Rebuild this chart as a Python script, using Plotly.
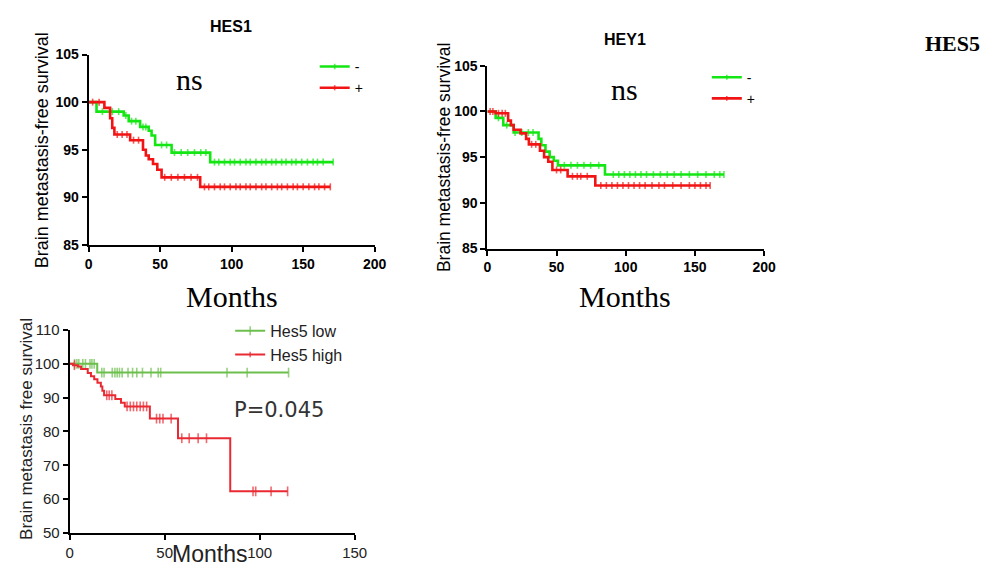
import numpy as np
import plotly.graph_objects as go

# ---------------- data ----------------
# HES1 panel (time in months, survival in %)
hes1_neg_t = [0, 5.5, 24.5, 28, 36, 42, 44, 46.5, 58, 85]
hes1_neg_s = [100, 99.0, 98.6, 98.0, 97.4, 97.0, 96.5, 95.5, 94.7, 93.7]
hes1_neg_c = [9.6, 16.5, 21, 26, 30, 33, 38, 40, 51, 54.5, 60, 64.7, 69.3, 74, 78.4, 82,
              88, 91, 95, 99, 102, 106, 110, 113, 117, 121, 124, 128, 131, 135, 138, 142,
              145, 149, 153, 157, 160, 164, 171]
hes1_pos_t = [0, 11, 15, 16.5, 18, 29, 38, 40, 42, 45, 48, 51, 78]
hes1_pos_s = [100, 99.4, 98.3, 97.3, 96.6, 96.0, 95.0, 94.4, 94.0, 93.5, 92.9, 92.1, 91.1]
hes1_pos_c = [2.8, 7.3, 20, 23.4, 26.8, 31.4, 34.9, 53.2, 57.8, 62.4, 67, 71.6, 76.1, 81,
              84, 88, 92, 95, 99, 103, 106, 110, 113, 117, 121, 124, 128, 132, 135, 139,
              143, 146, 150, 154, 158, 161, 165, 169]

# HEY1 panel
hey1_neg_t = [0, 6, 11.5, 19, 37, 39, 42, 45, 48, 51, 85]
hey1_neg_s = [100, 99.3, 98.5, 97.7, 97.0, 96.3, 95.6, 95.0, 94.6, 94.1, 93.1]
hey1_neg_c = [8, 14, 20, 24.9, 29.6, 33, 55.6, 60.4, 65.1, 69.8, 74.6, 80.5, 91, 95, 99,
              103, 107, 111, 115, 120, 125, 130, 135, 140, 146, 152, 158, 164, 168, 171]
hey1_pos_t = [0, 6, 15, 17, 19, 24, 28, 30, 38, 41, 44, 47, 58, 78]
hey1_pos_s = [100, 99.8, 99.0, 98.5, 98.0, 97.6, 97.0, 96.4, 95.7, 95.0, 94.5, 93.6, 92.9, 91.9]
hey1_pos_c = [2, 4, 8, 10.7, 13, 32, 35, 50, 53, 61.5, 65, 67.5, 72.2, 82, 86, 90, 94, 98,
              102, 106, 110, 114, 119, 124, 128, 134, 140, 146, 150, 154, 158, 161]

# HES5 panel
hes5_low_t = [0, 14.5]
hes5_low_s = [100, 97.4]
hes5_low_c = [2.6, 3.8, 4.8, 6.9, 8.3, 10.7, 11.7, 12.9, 16.9, 18.1, 22.4, 23.8, 25, 26.2,
              27.6, 30.7, 33.1, 35.3, 38.3, 42.8, 46.6, 47.9, 82.8, 93.4, 115.2]
hes5_high_t = [0, 1.7, 4.3, 6, 9.5, 11.2, 12.9, 14.6, 16.4, 17.2, 18.1, 24, 27, 29, 42.2, 57, 84.5]
hes5_high_s = [100, 99.6, 99.2, 98.5, 97.3, 96.3, 95.4, 94.4, 93.3, 92.0, 90.7, 89.6, 88.5,
               87.4, 83.8, 78.0, 62.3]
hes5_high_c = [2.5, 19.5, 20.8, 22.2, 30.2, 31.9, 33.6, 35.3, 37.1, 38.8, 40.5, 45.7, 47.4,
               49.1, 53.4, 59, 62.9, 67.6, 72, 96.5, 97.9, 106, 114.7]

top_tickvals_y = [85, 90, 95, 100, 105]
top_tickvals_x = [0, 50, 100, 150, 200]
bot_tickvals_y = [50, 60, 70, 80, 90, 100, 110]
bot_tickvals_x = [0, 50, 100, 150]

GREEN_TOP = "#14e614"
RED_TOP = "#f21414"
GREEN_BOT = "#6cbf4c"
RED_BOT = "#ea2a33"


def km_trace(times, surv, cens, name, color, width, xa, ya, legend, msize):
    t = np.asarray(times, float)
    s = np.asarray(surv, float)
    x = np.unique(np.concatenate([t, np.asarray(cens, float)]))
    idx = np.searchsorted(t, x, side="right") - 1
    y = s[idx]
    cset = set(float(c) for c in cens)
    sizes = [msize if float(v) in cset else 0 for v in x]
    return go.Scatter(
        x=x, y=y, mode="lines+markers", name=name, line=dict(color=color, width=width, shape="hv"),
        marker=dict(symbol="line-ns", size=sizes, color=color, line=dict(color=color, width=1.6)),
        xaxis=xa, yaxis=ya, legend=legend, hoverinfo="skip", cliponaxis=False,
    )


fig = go.Figure()
fig.add_trace(km_trace(hes1_neg_t, hes1_neg_s, hes1_neg_c, "-", GREEN_TOP, 2.6, "x", "y", "legend", 5))
fig.add_trace(km_trace(hes1_pos_t, hes1_pos_s, hes1_pos_c, "+", RED_TOP, 2.6, "x", "y", "legend", 5))
fig.add_trace(km_trace(hey1_neg_t, hey1_neg_s, hey1_neg_c, "-", GREEN_TOP, 2.6, "x2", "y2", "legend2", 5))
fig.add_trace(km_trace(hey1_pos_t, hey1_pos_s, hey1_pos_c, "+", RED_TOP, 2.6, "x2", "y2", "legend2", 5))
fig.add_trace(km_trace(hes5_low_t, hes5_low_s, hes5_low_c, "Hes5 low", GREEN_BOT, 2, "x3", "y3", "legend3", 7))
fig.add_trace(km_trace(hes5_high_t, hes5_high_s, hes5_high_c, "Hes5 high", RED_BOT, 2, "x3", "y3", "legend3", 7))

# the page keeps the browser's default 8px body margin, so the figure is sized to fit
PAGE_W, PAGE_H, OFF = 1002, 580, 8
W, H = PAGE_W - 2 * OFF, PAGE_H - 2 * OFF


def px_x(v):
    return (v - OFF) / W


def px_y(v):
    return 1 - (v - OFF) / H


SANS = "Liberation Sans, Arial, sans-serif"
SERIF = "Liberation Serif, Times New Roman, serif"

axis_common = dict(showgrid=False, zeroline=False, showline=True, linecolor="black", linewidth=2,
                   ticks="outside", ticklen=5, tickwidth=2, tickcolor="black", mirror=False)
top_tickfont = dict(family=SANS, size=14, color="black", weight="bold")
bot_tickfont = dict(family=SANS, size=15, color="#222222")

fig.update_layout(
    width=W, height=H, margin=dict(l=0, r=0, t=0, b=0),
    paper_bgcolor="white", plot_bgcolor="white", showlegend=True,
    xaxis=dict(domain=[px_x(86), px_x(377)], range=[0, 200], tickvals=top_tickvals_x,
               anchor="y", tickfont=top_tickfont, **axis_common),
    yaxis=dict(domain=[px_y(243), px_y(46.7)], range=[85, 105], tickvals=top_tickvals_y,
               anchor="x", tickfont=top_tickfont, **axis_common),
    xaxis2=dict(domain=[px_x(491.7), px_x(773.3)], range=[0, 200], tickvals=top_tickvals_x,
                anchor="y2", tickfont=top_tickfont, **axis_common),
    yaxis2=dict(domain=[px_y(246.7), px_y(58.3)], range=[85, 105], tickvals=top_tickvals_y,
                anchor="x2", tickfont=top_tickfont, **axis_common),
    xaxis3=dict(domain=[px_x(66.7), px_x(356.7)], range=[0, 150], tickvals=bot_tickvals_x,
                anchor="y3", tickfont=bot_tickfont, **axis_common),
    yaxis3=dict(domain=[px_y(540), px_y(330.7)], range=[50, 110], tickvals=bot_tickvals_y,
                anchor="x3", tickfont=bot_tickfont, **axis_common),
    legend=dict(x=px_x(316), y=px_y(43), xanchor="left", yanchor="top", bgcolor="rgba(0,0,0,0)",
                font=dict(family=SANS, size=14, color="black"), itemwidth=30, tracegroupgap=0),
    legend2=dict(x=px_x(715), y=px_y(54), xanchor="left", yanchor="top", bgcolor="rgba(0,0,0,0)",
                 font=dict(family=SANS, size=14, color="black"), itemwidth=30, tracegroupgap=0),
    legend3=dict(x=px_x(230), y=px_y(314), xanchor="left", yanchor="top", bgcolor="rgba(0,0,0,0)",
                 font=dict(family=SANS, size=16, color="#222222"), itemwidth=30, tracegroupgap=0),
)

ann = []


def add_text(text, x, y, font, angle=0):
    ann.append(dict(text=text, x=px_x(x), y=px_y(y), xref="paper", yref="paper", showarrow=False,
                    xanchor="center", yanchor="middle", font=font, textangle=angle))


add_text("HES1", 231, 17.5, dict(family=SANS, size=16, color="black", weight="bold"))
add_text("HEY1", 632, 31, dict(family=SANS, size=16, color="black", weight="bold"))
add_text("HES5", 965, 35, dict(family=SERIF, size=22, color="black", weight="bold"))
add_text("ns", 189, 72, dict(family=SERIF, size=30, color="black"))
add_text("ns", 631, 83, dict(family=SERIF, size=30, color="black"))
add_text("Months", 232, 296, dict(family=SERIF, size=30, color="black"))
add_text("Months", 632, 296, dict(family=SERIF, size=30, color="black"))
add_text("Months", 209, 562, dict(family=SANS, size=23, color="#222222"))
add_text("P=0.045", 280, 413, dict(family="DejaVu Sans, sans-serif", size=21, color="#333333"))
add_text("Brain metastasis-free survival", 38, 145, dict(family=SANS, size=18, color="black"), -90)
add_text("Brain metastasis-free survival", 447, 152, dict(family=SANS, size=17.5, color="black"), -90)
add_text("Brain metastasis free survival", 22, 433, dict(family=SANS, size=17, color="#222222"), -90)

fig.update_layout(annotations=ann)

fig.write_html("out.html", config={"displayModeBar": False})
